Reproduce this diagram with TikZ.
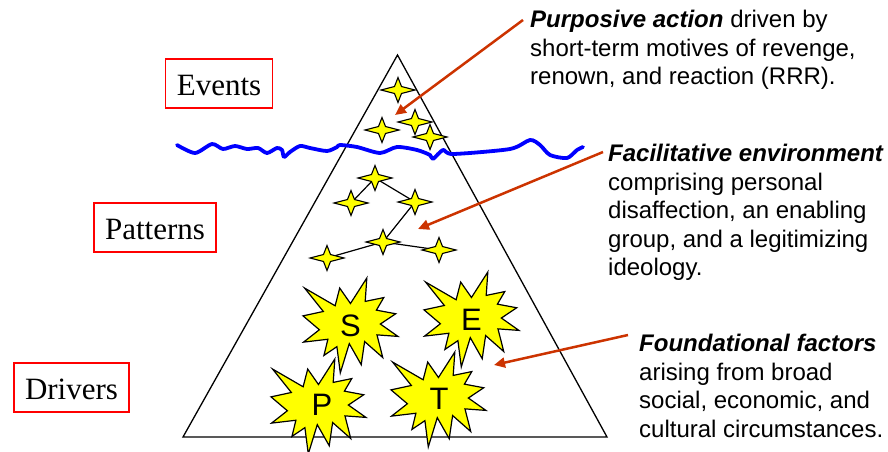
\documentclass[tikz,border=0pt]{standalone}
\usepackage{fontspec}
\setmainfont{Liberation Serif}
\setsansfont{Liberation Sans}
\usetikzlibrary{arrows.meta}
\definecolor{arrowred}{RGB}{204,51,0}
\definecolor{boxred}{RGB}{255,0,0}
\definecolor{wave}{RGB}{0,0,255}
\definecolor{staryellow}{RGB}{255,255,0}
\begin{document}
\begin{tikzpicture}[x=1pt,y=-1pt,
  level/.style={draw=boxred, line width=1.2pt, font=\fontsize{31}{36}\selectfont,
    inner xsep=11pt, inner ysep=8pt, text height=28pt, text depth=5pt},
  note/.style={anchor=north west, inner sep=0pt, align=left,
    font=\sffamily\fontsize{24}{28.5}\selectfont},
  pointer/.style={draw=arrowred, line width=2.5pt, -{Triangle[length=11pt,width=10pt]}},
  letter/.style={font=\sffamily\fontsize{31}{36}\selectfont, inner sep=0pt},
  link/.style={line width=1.2pt},
  fourstar/.pic={\draw[fill=staryellow, line width=1.1pt, line join=miter]
    (-17,0) -- (-3.5,-3.5) -- (0,-12.5) -- (3.5,-3.5) -- (17,0) -- (3.5,3.5) -- (0,12.5) -- (-3.5,3.5) -- cycle;},
  burst/.pic={\draw[fill=staryellow, line width=1.2pt, x=0.0044pt, y=-0.0044pt]
    (10800,5800) -- (14522,0) -- (14155,5325) -- (18380,4457) -- (16702,7315) --
    (21097,8137) -- (17607,10475) -- (21600,13290) -- (16837,12942) -- (18145,18095) --
    (14020,14457) -- (13247,19737) -- (10532,14935) -- (8485,21600) -- (7715,15627) --
    (4762,17617) -- (5667,13937) -- (135,14587) -- (3722,11775) -- (0,8615) --
    (4627,7617) -- (370,2295) -- (7312,6320) -- (8352,2295) -- cycle;}
]
\useasboundingbox (0,0) rectangle (888,452);

% pyramid
\draw[line width=1.3pt, line join=miter] (397.5,55) -- (607,437) -- (183,437) -- cycle;

% pattern stars and links
\coordinate (pA) at (375,178);
\coordinate (pB) at (351,203);
\coordinate (pC) at (415,202);
\coordinate (pD) at (383,242);
\coordinate (pE) at (327,258);
\coordinate (pF) at (439,250);
\draw[link] (pB) -- (pA) -- (pC) -- (pD) -- (pE);
\draw[link] (pD) -- (pF);
\foreach \p in {pA,pB,pC,pD,pE,pF} \pic at (\p) {fourstar};

% event stars
\coordinate (e1) at (398,90);
\coordinate (e2) at (382,130);
\coordinate (e3) at (415,122);
\coordinate (e4) at (430,137);
\foreach \p in {e1,e2,e3,e4} \pic at (\p) {fourstar};

% driver bursts
\pic at (303,278) {burst};
\pic at (424,272) {burst};
\pic at (271,359) {burst};
\pic at (391,352) {burst};
\node[letter] (S) at (350.5,325.5) {S};
\node[letter] (E) at (471.5,319.5) {E};
\node[letter] (P) at (322,405) {P};
\node[letter] (T) at (439,399) {T};

% wavy line
\draw[wave, line width=3.8pt, line cap=round, line join=round]
  plot[smooth, tension=0.45] coordinates {
  (177,145) (195,153) (212,144) (223,149) (235,146) (247,149) (258,148) (267,153)
  (277,148) (282,150) (284,157) (290,152) (300,146) (310,148) (327,151) (337,147)
  (340,145) (357,147) (380,153) (397,147) (417,150) (430,155) (433,159) (443,150)
  (453,154) (510,149) (530,140) (540,145) (550,155) (567,158) (577,150) (583,147)};

% level labels
\node[level] (events) at (219,83.5) {Events};
\node[level] (patterns) at (155,227.5) {Patterns};
\node[level] (drivers) at (71.5,387.5) {Drivers};

% notes
\node[note] (n1) at (530,10) {\textbf{\textit{Purposive action}} driven by\\short-term motives of revenge,\\renown, and reaction (RRR).};
\node[note] (n2) at (608,144) {\textbf{\textit{Facilitative environment}}\\comprising personal\\disaffection, an enabling\\group, and a legitimizing\\ideology.};
\node[note] (n3) at (639,334) {\textbf{\textit{Foundational factors}}\\arising from broad\\social, economic, and\\cultural circumstances.};

% pointers
\coordinate (s1) at (523,20);
\coordinate (t1) at (395,115);
\coordinate (s2) at (603,152);
\coordinate (t2) at (418,229);
\coordinate (s3) at (628,335);
\coordinate (t3) at (494,365);
\draw[pointer] (s1) -- (t1);
\draw[pointer] (s2) -- (t2);
\draw[pointer] (s3) -- (t3);
\end{tikzpicture}
\end{document}
